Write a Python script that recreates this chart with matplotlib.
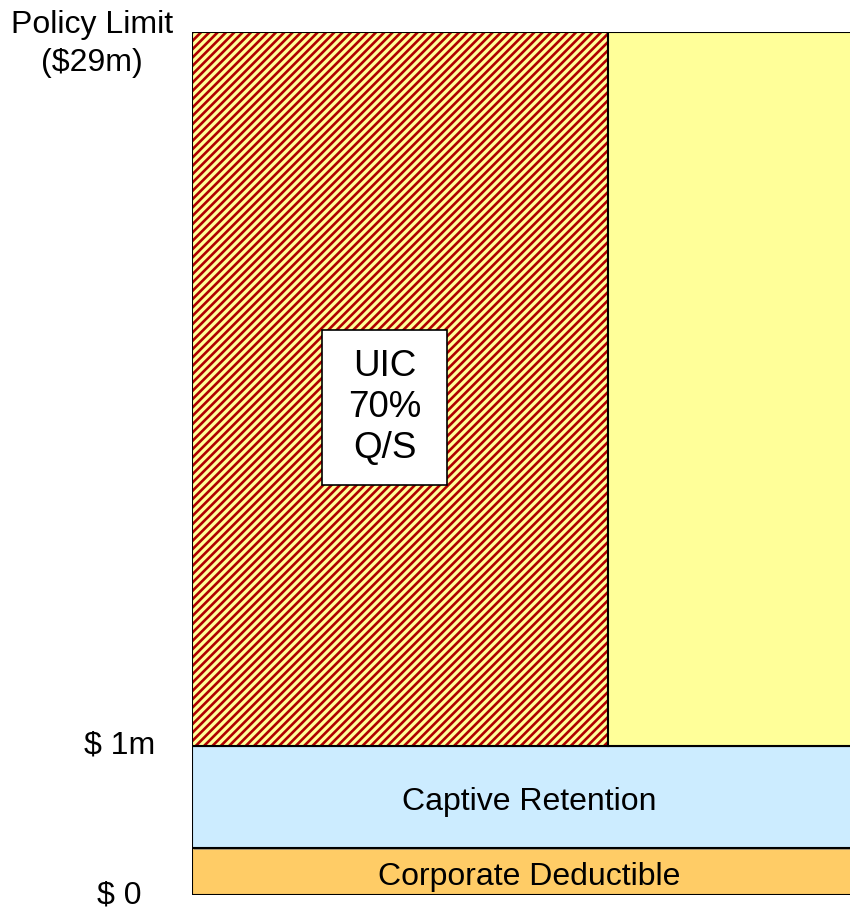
import matplotlib.pyplot as plt
from matplotlib.patches import Rectangle
import matplotlib.patheffects as pe

plt.rcParams['font.family'] = ['Liberation Sans', 'DejaVu Sans']
plt.rcParams['hatch.linewidth'] = 1.9

# layers of the program (schematic heights, not to scale)
layer_names = ['Corporate Deductible', 'Captive Retention', 'Excess Layer']
layer_heights = [0.47, 1.02, 7.14]
layer_colors = ['#FFCC66', '#CCECFF', '#FFFF99']

# quota share split of the excess layer (display widths)
qs_labels = ['UIC\n70%\nQ/S', '']
qs_widths = [0.632, 0.40]

# axis labels at layer boundaries
limit_labels = ['$ 0', '$ 1m']
top_label = 'Policy Limit\n($29m)'

fig = plt.figure(figsize=(8.5, 9.1), dpi=100)
ax = fig.add_axes([192 / 850, 15 / 910, 1 - 192 / 850, 863 / 910])
ax.set_xlim(0, 1)
total = sum(layer_heights)
ax.set_ylim(0, total)
ax.axis('off')

shadow = [pe.SimplePatchShadow(offset=(1.5, -1.5), shadow_rgbFace='gray', alpha=0.6), pe.Normal()]

bottoms = [sum(layer_heights[:i]) for i in range(len(layer_heights))]

# lower two layers span the whole width
for name, b, h, c in zip(layer_names[:2], bottoms[:2], layer_heights[:2], layer_colors[:2]):
    ax.bar(0, h, width=1.05, bottom=b, align='edge', color=c, edgecolor='black',
           linewidth=1.5, path_effects=shadow)
    ax.text(0.512, b + h / 2 - 0.05, name, ha='center', va='center', fontsize=23)

# excess layer: hatched UIC part + plain remainder
b, h = bottoms[2], layer_heights[2]
ax.bar(0, h, width=qs_widths[0], bottom=b, align='edge', color=layer_colors[2],
       edgecolor='#B00000', hatch='////', linewidth=0)
ax.bar(0, h, width=qs_widths[0], bottom=b, align='edge', fill=False,
       edgecolor='black', linewidth=1.5)
ax.bar(qs_widths[0], h, width=qs_widths[1], bottom=b, align='edge',
       color=layer_colors[2], edgecolor='black', linewidth=1.5)

# label box for UIC
ax.add_patch(Rectangle((0.1976, 0.475), 0.19, 0.1796, transform=ax.transAxes,
                       facecolor='white', edgecolor='black', linewidth=1.2, zorder=5))
ax.text(0.2926, 0.565, qs_labels[0], transform=ax.transAxes, ha='center', va='center',
        fontsize=26.5, linespacing=1.22, zorder=6)

# boundary labels on the left
trans = ax.get_yaxis_transform()
ax.text(-0.11, bottoms[0], limit_labels[0], transform=trans, ha='center', va='center',
        fontsize=23, clip_on=False)
ax.text(-0.11, bottoms[2], limit_labels[1], transform=trans, ha='center', va='center',
        fontsize=23, clip_on=False)
fig.text(92 / 850, 1 - 44 / 910, top_label, ha='center', va='center', fontsize=23,
         linespacing=1.38)

fig.savefig('out.png', dpi=100)
